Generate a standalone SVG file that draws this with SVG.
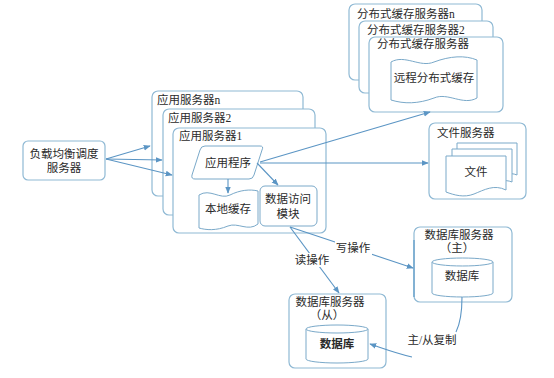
<svg xmlns="http://www.w3.org/2000/svg" width="554" height="378" viewBox="0 0 554 378">
<style>
.box{fill:#fff;stroke:#8fb9d4;stroke-width:1.2}
.edge{fill:none;stroke:#6aa3cc;stroke-width:1.4}
.shape{fill:#fff;stroke:#7aa9c9;stroke-width:1}
.t{font-family:"Liberation Serif","Noto Sans CJK SC",serif;font-size:11.5px;fill:#2a2a2a}
.c{text-anchor:middle}
.ln{fill:none;stroke:#5b95c4;stroke-width:1.1}
.lbl{fill:#fff}
</style>
<defs>
<marker id="ah" viewBox="0 0 10 10" refX="9" refY="5" markerWidth="7" markerHeight="7" orient="auto" markerUnits="userSpaceOnUse">
<path d="M0,1 L10,5 L0,9 z" fill="#5b95c4"/>
</marker>
</defs>

<g id="lb">
<rect class="box" x="23" y="141" width="82" height="39" rx="5"/>
<text class="t c" x="64" y="158">负载均衡调度</text>
<text class="t c" x="64" y="172">服务器</text>
</g>

<g id="dcache-n">
<rect class="box" x="349" y="4" width="133" height="76" rx="6"/>
<text class="t" x="357" y="18">分布式缓存服务器n</text>
</g>
<g id="dcache-2">
<rect class="box" x="359" y="21" width="134" height="72" rx="6"/>
<text class="t" x="367" y="34">分布式缓存服务器2</text>
</g>
<g id="dcache-1">
<rect class="box" x="369" y="37" width="134" height="75" rx="6"/>
<text class="t" x="377" y="48">分布式缓存服务器</text>
<path class="shape" d="M391,62 C405,54 420,68 434,62 C450,56 465,55 477,60 L477,98 C463,106 448,92 434,98 C418,104 404,104 391,100 Z"/>
<text class="t c" x="434" y="82">远程分布式缓存</text>
</g>

<g id="app-n">
<rect class="box" x="152" y="91" width="151" height="105" rx="6"/>
<text class="t" x="157" y="104">应用服务器n</text>
</g>
<g id="app-2">
<rect class="box" x="163" y="109" width="152" height="106" rx="6"/>
<text class="t" x="168" y="122">应用服务器2</text>
</g>
<g id="app-1">
<rect class="box" x="173" y="128" width="153" height="105" rx="6"/>
<text class="t" x="179" y="140">应用服务器1</text>
</g>

<g id="app-prog">
<path class="shape" d="M205,146 L260,146 Q264,146 262,150 L254,175 Q253,179 249,179 L195,179 Q191,179 192,175 L200,150 Q201,146 205,146 Z"/>
<text class="t c" x="228" y="167">应用程序</text>
</g>

<g id="local-cache">
<path class="shape" d="M199,195 C210,188 220,200 230,195 C240,190 250,189 258,191 L258,224 C248,232 238,222 228,226 C216,231 206,230 199,228 Z"/>
<text class="t c" x="228" y="213">本地缓存</text>
</g>

<g id="dao">
<rect class="shape" x="260" y="186" width="57" height="40" rx="5"/>
<text class="t c" x="288" y="203">数据访问</text>
<text class="t c" x="288" y="218">模块</text>
</g>

<g id="file-server">
<rect class="box" x="429" y="123" width="97" height="76" rx="6"/>
<text class="t" x="437" y="137">文件服务器</text>
<path class="shape" d="M457,143 L517,143 L517,175 C510,172 500,174 490,178 L457,178 Z"/>
<path class="shape" d="M452,149 L512,149 L512,182 C505,179 495,181 485,185 L452,185 Z"/>
<path class="shape" d="M446,156 L506,156 L506,190 C494,184 484,190 474,194 C464,198 454,195 446,192 Z"/>
<text class="t c" x="476" y="176">文件</text>
</g>

<g id="db-master">
<rect class="box" x="414" y="227" width="98" height="75" rx="6"/>
<line class="edge" x1="414" y1="240" x2="414" y2="297"/>
<text class="t c" x="459" y="239">数据库服务器</text>
<text class="t c" x="457" y="252">（主）</text>
<path class="shape" d="M432,262 A30.5,4 0 0 1 493,262 L493,293 A30.5,4 0 0 1 432,293 Z"/>
<path class="shape" d="M432,262 A30.5,4 0 0 0 493,262"/>
<text class="t c" x="462" y="280">数据库</text>
</g>

<g id="db-slave">
<rect class="box" x="289" y="294" width="97" height="74" rx="6"/>
<text class="t c" x="330" y="306">数据库服务器</text>
<text class="t c" x="327" y="319">（从）</text>
<path class="shape" d="M306,329 A31,4 0 0 1 368,329 L368,359 A31,4 0 0 1 306,359 Z"/>
<path class="shape" d="M306,329 A31,4 0 0 0 368,329"/>
<text class="t c" x="337" y="348" font-weight="bold">数据库</text>
</g>

<g id="connectors">
<line class="ln" x1="106" y1="159" x2="150" y2="146" marker-end="url(#ah)"/>
<line class="ln" x1="106" y1="159" x2="162" y2="160" marker-end="url(#ah)"/>
<line class="ln" x1="106" y1="159" x2="172" y2="175" marker-end="url(#ah)"/>
<line class="ln" x1="228" y1="179" x2="228" y2="193" marker-end="url(#ah)"/>
<line class="ln" x1="257" y1="163" x2="278" y2="185" marker-end="url(#ah)"/>
<line class="ln" x1="260" y1="162" x2="430" y2="112" marker-end="url(#ah)"/>
<line class="ln" x1="260" y1="163" x2="428" y2="163" marker-end="url(#ah)"/>
<line class="ln" x1="290" y1="227" x2="413" y2="268" marker-end="url(#ah)"/>
<line class="ln" x1="290" y1="227" x2="339" y2="293" marker-end="url(#ah)"/>
<path class="ln" d="M462,297 C462,312 460,324 456,332"/>
<path class="ln" d="M412,357 C395,353 382,348 370,344" marker-end="url(#ah)"/>
<rect class="lbl" x="335" y="241" width="37" height="14"/>
<text class="t c" x="353" y="252">写操作</text>
<rect class="lbl" x="294" y="253" width="37" height="14"/>
<text class="t c" x="312" y="264">读操作</text>
<text class="t c" x="432" y="344">主/从复制</text>
</g>
</svg>
